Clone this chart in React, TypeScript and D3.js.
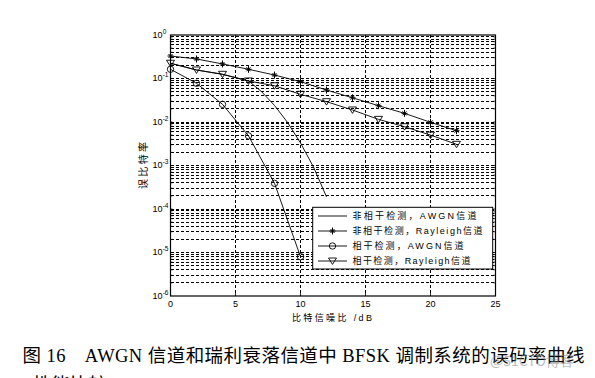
import React from "react";
import * as d3 from "d3";

// ---- data ----
const xTicks = [0, 5, 10, 15, 20, 25];
const yExponents = [0, -1, -2, -3, -4, -5, -6];

const snrMarked = [0, 2, 4, 6, 8, 10, 12, 14, 16, 18, 20, 22];
const nonCohRayleigh = [0.329, 0.281, 0.216, 0.163, 0.12, 0.0845, 0.0544, 0.036, 0.0237, 0.0158, 0.00984, 0.0063];
const cohRayleigh = [0.224, 0.157, 0.125, 0.0877, 0.068, 0.0433, 0.0293, 0.0189, 0.0115, 0.0078, 0.005, 0.00307];

const snrCohAwgn = [0, 2, 4, 6, 8, 10];
const cohAwgn = [0.163, 0.0776, 0.0255, 0.0048, 0.00039, 0.000008];

const snrNonCohAwgn = [0, 2, 4, 6, 7, 8, 9, 10, 11, 12];
const nonCohAwgn = [0.224, 0.157, 0.125, 0.088, 0.05, 0.024, 0.0098, 0.0033, 0.00092, 0.00019];

const legendLabels = [
  "非相干检测，AWGN信道",
  "非相干检测，Rayleigh信道",
  "相干检测，AWGN信道",
  "相干检测，Rayleigh信道",
];
const legendMarkers = ["none", "star", "circle", "tri"];
const legendWidths = [124, 130, 111, 118];

const yLabel = "误比特率";
const xLabel = "比特信噪比 /dB";
const caption = "图 16　AWGN 信道和瑞利衰落信道中 BFSK 调制系统的误码率曲线";
const caption2 = "性能比较";
const watermark = "@51CTO博客";

// ---- layout ----
const W = 595, H = 378;
const L = 170.5, R = 495.5, T = 35, B = 296;
const axisFont = "'Liberation Sans', Arial, 'Noto Sans CJK SC', sans-serif";

function Marker({ kind, x, y }: { kind: string; x: number; y: number }) {
  if (kind === "circle")
    return <circle cx={x} cy={y} r={3.2} fill="none" stroke="#000" strokeWidth={0.9} />;
  if (kind === "tri") {
    const s = 4;
    return (
      <path
        d={`M${x - s},${y - s * 0.75}L${x + s},${y - s * 0.75}L${x},${y + s * 0.85}Z`}
        fill="none"
        stroke="#000"
        strokeWidth={0.9}
      />
    );
  }
  if (kind === "star") {
    const s = 3, d = 2;
    return (
      <path
        d={`M${x - s},${y}L${x + s},${y}M${x},${y - s - 0.5}L${x},${y + s + 0.5}M${x - d},${y - d}L${x + d},${y + d}M${x - d},${y + d}L${x + d},${y - d}`}
        stroke="#000"
        strokeWidth={1}
      />
    );
  }
  return null;
}

export default function App() {
  const x = d3.scaleLinear().domain([0, 25]).range([L, R]);
  const y = d3.scaleLog().domain([1e-6, 1]).range([B, T]);
  const line = d3
    .line<[number, number]>()
    .x((d) => x(d[0]))
    .y((d) => y(d[1]));

  const gridY: number[] = [];
  for (let k = -6; k <= -1; k++) {
    for (let m = 1; m <= 9; m++) {
      const v = m * Math.pow(10, k);
      if (v > 1e-6 * 1.0001) gridY.push(v);
    }
  }
  const gridX = xTicks.filter((t) => t > 0 && t < 25);

  const series = [
    { sx: snrNonCohAwgn, sy: nonCohAwgn, mk: "none" },
    { sx: snrMarked, sy: nonCohRayleigh, mk: "star" },
    { sx: snrCohAwgn, sy: cohAwgn, mk: "circle" },
    { sx: snrMarked, sy: cohRayleigh, mk: "tri" },
  ];

  const legendRows = [216, 231, 246, 261];

  return (
    <svg
      width={W}
      height={H}
      viewBox={`0 0 ${W} ${H}`}
      style={{ position: "absolute", left: 0, top: 0, background: "#fff" }}
    >
      <rect x={0} y={0} width={W} height={H} fill="#fff" />
      {/* grid */}
      <g stroke="#000" strokeWidth={1} strokeDasharray="3,2" shapeRendering="crispEdges">
        {gridY.map((v, i) => (
          <line key={"gy" + i} x1={L} x2={R} y1={y(v)} y2={y(v)} />
        ))}
        {gridX.map((t) => (
          <line key={"gx" + t} x1={x(t)} x2={x(t)} y1={T} y2={B} />
        ))}
      </g>
      {/* ticks */}
      <g stroke="#000" strokeWidth={0.8}>
        {gridX.map((t) => (
          <g key={"tx" + t}>
            <line x1={x(t)} x2={x(t)} y1={B} y2={B - 3} />
            <line x1={x(t)} x2={x(t)} y1={T} y2={T + 3} />
          </g>
        ))}
        {gridY.map((v, i) => (
          <g key={"ty" + i}>
            <line x1={L} x2={L + 2} y1={y(v)} y2={y(v)} />
            <line x1={R} x2={R - 2} y1={y(v)} y2={y(v)} />
          </g>
        ))}
      </g>
      {/* curves */}
      <g fill="none" stroke="#000" strokeWidth={0.9}>
        {series.map((s, i) => (
          <path key={"l" + i} d={line(s.sx.map((v, j) => [v, s.sy[j]]) as [number, number][]) || ""} />
        ))}
      </g>
      {series.map((s, i) =>
        s.mk === "none"
          ? null
          : s.sx.map((v, j) => <Marker key={`m${i}-${j}`} kind={s.mk} x={x(v)} y={y(s.sy[j])} />)
      )}
      {/* frame */}
      <rect x={L} y={T} width={R - L} height={B - T} fill="none" stroke="#000" strokeWidth={1.2} />
      {/* x tick labels */}
      <g fontFamily={axisFont} fontSize={9} textAnchor="middle" fill="#000">
        {xTicks.map((t) => (
          <text key={"xl" + t} x={x(t)} y={B + 11}>
            {t}
          </text>
        ))}
      </g>
      {/* y tick labels */}
      <g fontFamily={axisFont} fill="#000">
        {yExponents.map((e) => (
          <text key={"yl" + e} x={L - 8} y={y(Math.pow(10, e)) + 2.5} fontSize={9} textAnchor="end">
            10
            <tspan fontSize={6.5} dy={-4} x={L - 7.8} textAnchor="start">
              {e}
            </tspan>
          </text>
        ))}
      </g>
      {/* axis labels */}
      <text
        x={292}
        y={321}
        fontFamily={axisFont}
        fontSize={9}
        textLength={80}
        lengthAdjust="spacing"
        fill="#000"
      >
        {xLabel}
      </text>
      <text
        transform={`translate(146.5,${(T + B) / 2 + 23.5}) rotate(-90)`}
        fontFamily={axisFont}
        fontSize={10}
        textLength={47}
        lengthAdjust="spacing"
        fill="#000"
      >
        {yLabel}
      </text>
      {/* legend */}
      <rect x={312.7} y={207.3} width={180} height={61.7} fill="#fff" stroke="#000" strokeWidth={1} />
      {legendLabels.map((lab, i) => (
        <g key={"lg" + i}>
          <line x1={318} x2={347} y1={legendRows[i]} y2={legendRows[i]} stroke="#000" strokeWidth={0.9} />
          <Marker kind={legendMarkers[i]} x={332.5} y={legendRows[i]} />
          <text
            x={352.5}
            y={legendRows[i] + 3.2}
            fontFamily={axisFont}
            fontSize={9}
            textLength={legendWidths[i]}
            lengthAdjust="spacing"
            fill="#000"
          >
            {lab}
          </text>
        </g>
      ))}
      {/* caption */}
      <text
        x={22.5}
        y={362}
        fontFamily="'Liberation Serif', 'Noto Sans CJK SC', serif"
        fontSize={18.5}
        textLength={562}
        lengthAdjust="spacing"
        fill="#000"
      >
        {caption}
      </text>
      <text
        x={33}
        y={391}
        fontFamily="'Liberation Serif', 'Noto Sans CJK SC', serif"
        fontSize={18.5}
        fill="#000"
      >
        {caption2}
      </text>
      <text
        x={490}
        y={366}
        fontFamily="'Noto Sans CJK SC', sans-serif"
        fontSize={14}
        fill="#888"
        opacity={0.55}
      >
        {watermark}
      </text>
    </svg>
  );
}
